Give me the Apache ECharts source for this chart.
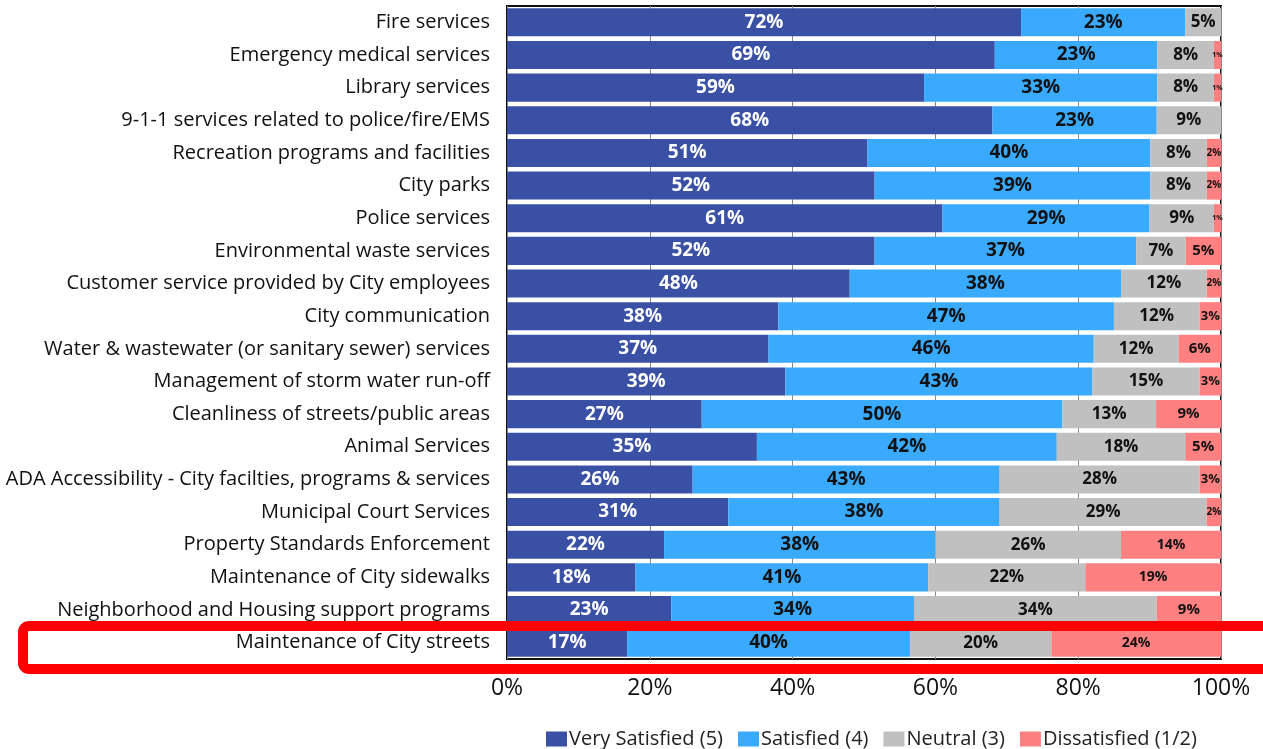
<!DOCTYPE html>
<html>
<head>
<meta charset="utf-8">
<script src="https://cdn.jsdelivr.net/npm/echarts@6/dist/echarts.min.js"></script>
<style>
  html, body { margin: 0; padding: 0; background: #fff; }
  #chart { width: 1263px; height: 749px; }
</style>
</head>
<body>
<div id="chart"></div>
<script>
// categories, top to bottom
const categories = [
  'Fire services',
  'Emergency medical services',
  'Library services',
  '9-1-1 services related to police/fire/EMS',
  'Recreation programs and facilities',
  'City parks',
  'Police services',
  'Environmental waste services',
  'Customer service provided by City employees',
  'City communication',
  'Water & wastewater (or sanitary sewer) services',
  'Management of storm water run-off',
  'Cleanliness of streets/public areas',
  'Animal Services',
  'ADA Accessibility - City facilties, programs & services',
  'Municipal Court Services',
  'Property Standards Enforcement',
  'Maintenance of City sidewalks',
  'Neighborhood and Housing support programs',
  'Maintenance of City streets'
]

// percentages as printed on the bars
const verySatisfied = [72, 69, 59, 68, 51, 52, 61, 52, 48, 38, 37, 39, 27, 35, 26, 31, 22, 18, 23, 17]
const satisfied     = [23, 23, 33, 23, 40, 39, 29, 37, 38, 47, 46, 43, 50, 42, 43, 38, 38, 41, 34, 40]
const neutral       = [5, 8, 8, 9, 8, 8, 9, 7, 12, 12, 12, 15, 13, 18, 28, 29, 26, 22, 34, 20]
const dissatisfied  = [0, 1, 1, 0, 2, 2, 1, 5, 2, 3, 6, 3, 9, 5, 3, 2, 14, 19, 9, 24]

const seriesNames = ['Very Satisfied (5)', 'Satisfied (4)', 'Neutral (3)', 'Dissatisfied (1/2)']
const xTicks = [0, 20, 40, 60, 80, 100]

const colors = ['#3A50A5', '#39AAFD', '#C0C0C0', '#FF8080']
const allSeries = [verySatisfied, satisfied, neutral, dissatisfied]

// rows that don't add up to exactly 100 are scaled so every bar fills the axis
const rowSums = categories.map((c, i) => allSeries.reduce((s, arr) => s + arr[i], 0))

// the source shrinks the small right-hand labels to fit
const labelSize = (k, v) => {
  if (k < 2) return 19
  if (k === 2) return 17
  if (v === 1) return 7
  if (v === 2) return 10
  if (v === 3) return 13
  if (v < 10) return 15
  return 14
}

const series = allSeries.map((arr, k) => ({
  name: seriesNames[k],
  type: 'bar',
  stack: 'total',
  barCategoryGap: '14%',
  itemStyle: { color: colors[k] },
  data: arr.map((v, i) => ({
    value: v / rowSums[i] * 100,
    label: {
      show: v > 0,
      position: 'inside',
      formatter: v + '%',
      color: k === 0 ? '#fff' : '#111',
      fontWeight: 'bold',
      fontSize: labelSize(k, v),
      fontFamily: 'Open Sans'
    }
  })).reverse()
}))

const myChart = echarts.init(document.getElementById('chart'), null, { renderer: 'canvas' })
const option = {
  animation: false,
  grid: {
    left: 507,
    right: 42,
    top: 6,
    bottom: 90,
    show: true,
    borderColor: '#111',
    borderWidth: 2
  },
  legend: {
    top: 724,
    left: 541,
    itemWidth: 21,
    itemHeight: 15,
    itemGap: 15,
    icon: 'rect',
    textStyle: { fontSize: 20, color: '#222', fontFamily: 'Open Sans', padding: [0, 0, 0, -3] },
    data: seriesNames
  },
  xAxis: {
    type: 'value',
    min: 0,
    max: 100,
    interval: 20,
    axisLine: { show: false },
    axisTick: { show: false },
    splitLine: { show: true, lineStyle: { color: '#888', width: 1 } },
    axisLabel: {
      formatter: v => xTicks.includes(v) ? v + '%' : '',
      fontSize: 23,
      color: '#111',
      fontFamily: 'Open Sans',
      margin: 18
    }
  },
  yAxis: {
    type: 'category',
    data: categories.slice().reverse(),
    axisLine: { show: false },
    axisTick: { show: false },
    axisLabel: {
      fontSize: 20,
      color: '#111',
      fontFamily: 'Open Sans',
      margin: 17,
      padding: [4, 0, 0, 0]
    }
  },
  graphic: [
    {
      type: 'rect',
      shape: { x: 23, y: 626, width: 1300, height: 43, r: 6 },
      style: { fill: 'none', stroke: '#FF0000', lineWidth: 10 },
      z: 100
    }
  ],
  series: series
}
option && myChart.setOption(option)
</script>
</body>
</html>
